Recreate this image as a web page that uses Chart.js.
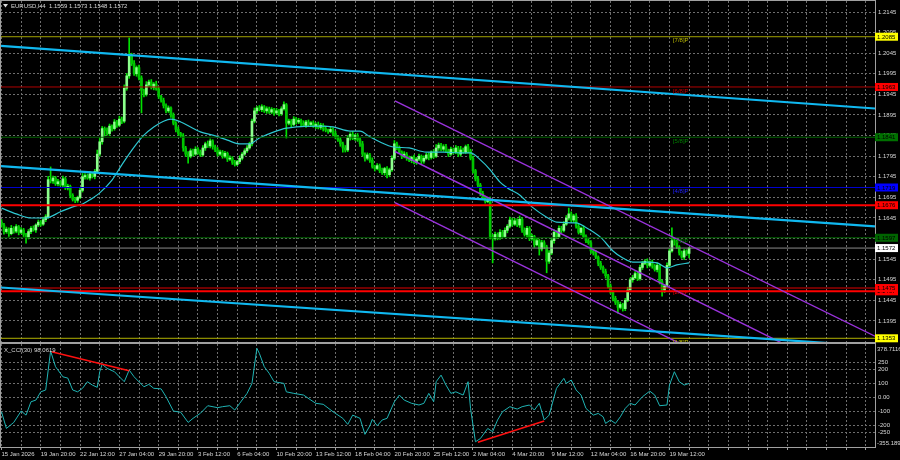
<!DOCTYPE html>
<html>
<head>
<meta charset="utf-8">
<script src="https://cdn.jsdelivr.net/npm/chart.js@4.4.1/dist/chart.umd.min.js"></script>
<style>
  html, body { margin: 0; padding: 0; background: #000; }
  #wrap { position: relative; width: 900px; height: 460px; background: #000; overflow: hidden; }
  canvas { position: absolute; left: 0; }
  #main { top: 0; }
  #cci { top: 343px; }
</style>
</head>
<body>
<div id="wrap">
  <canvas id="main" width="900" height="343"></canvas>
  <canvas id="cci" width="900" height="117"></canvas>
</div>
<script>
// EURUSD H4, 15 Jan - 20 Mar 2026
const firstOpen = 1.1635;
const closes = [
  1.1628,1.1612,1.1618,1.1607,1.1620,1.1613,1.1624,1.1610,1.1616,1.1605,
  1.1598,1.1612,1.1620,1.1616,1.1628,1.1635,1.1630,1.1641,1.1648,1.1738,
  1.1735,1.1742,1.1728,1.1733,1.1725,1.1740,1.1718,1.1722,1.1700,1.1690,
  1.1688,1.1695,1.1712,1.1745,1.1748,1.1742,1.1752,1.1746,1.1758,1.1800,
  1.1830,1.1862,1.1858,1.1850,1.1868,1.1862,1.1878,1.1870,1.1885,1.1880,
  1.1960,1.1990,1.2040,1.2020,1.1995,1.2010,1.1985,1.1955,1.1945,1.1968,
  1.1975,1.1962,1.1970,1.1958,1.1940,1.1930,1.1918,1.1905,1.1912,1.1895,
  1.1875,1.1860,1.1850,1.1845,1.1815,1.1800,1.1795,1.1808,1.1800,1.1812,
  1.1805,1.1798,1.1815,1.1825,1.1820,1.1832,1.1818,1.1810,1.1800,1.1805,
  1.1795,1.1802,1.1788,1.1790,1.1780,1.1775,1.1782,1.1790,1.1800,1.1808,
  1.1815,1.1825,1.1880,1.1905,1.1912,1.1908,1.1915,1.1905,1.1910,1.1902,
  1.1908,1.1900,1.1905,1.1898,1.1910,1.1920,1.1875,1.1880,1.1872,1.1885,
  1.1878,1.1882,1.1875,1.1870,1.1878,1.1872,1.1876,1.1868,1.1872,1.1865,
  1.1870,1.1862,1.1858,1.1855,1.1860,1.1850,1.1842,1.1835,1.1825,1.1815,
  1.1810,1.1840,1.1848,1.1838,1.1845,1.1835,1.1825,1.1800,1.1790,1.1798,
  1.1785,1.1770,1.1765,1.1772,1.1760,1.1755,1.1765,1.1750,1.1762,1.1790,
  1.1825,1.1815,1.1805,1.1795,1.1800,1.1790,1.1785,1.1792,1.1780,1.1788,
  1.1795,1.1783,1.1790,1.1798,1.1792,1.1805,1.1795,1.1815,1.1822,1.1812,
  1.1818,1.1808,1.1800,1.1812,1.1805,1.1815,1.1800,1.1810,1.1805,1.1818,
  1.1808,1.1790,1.1760,1.1740,1.1725,1.1705,1.1695,1.1685,1.1690,1.1600,
  1.1595,1.1605,1.1598,1.1610,1.1600,1.1615,1.1625,1.1640,1.1630,1.1638,
  1.1628,1.1642,1.1615,1.1605,1.1620,1.1595,1.1600,1.1580,1.1590,1.1570,
  1.1585,1.1575,1.1540,1.1560,1.1590,1.1610,1.1600,1.1620,1.1615,1.1630,
  1.1645,1.1655,1.1640,1.1650,1.1625,1.1610,1.1620,1.1600,1.1590,1.1585,
  1.1565,1.1560,1.1550,1.1535,1.1525,1.1515,1.1505,1.1480,1.1465,1.1450,
  1.1440,1.1428,1.1435,1.1425,1.1445,1.1470,1.1495,1.1500,1.1510,1.1498,
  1.1525,1.1535,1.1540,1.1530,1.1538,1.1528,1.1520,1.1530,1.1490,1.1470,
  1.1480,1.1530,1.1565,1.1590,1.1585,1.1575,1.1560,1.1550,1.1565,1.1559,1.1572
];
// wick lengths above / below the body, in pips
const wickUp = [
  6,4,5,3,7,4,5,3,6,4, 3,5,4,6,3,5,4,6,5,8, 31,5,4,6,3,7,4,5,3,4, 5,3,6,8,5,4,6,3,5,10,
  8,5,4,6,5,3,6,4,7,5, 8,6,42,5,7,4,6,5,3,8, 5,6,4,7,5,3,6,4,5,3, 5,4,6,3,5,4,6,5,4,6,
  4,5,6,4,7,5,3,4,6,5, 4,5,3,6,4,5,3,6,4,5, 6,4,5,7,4,6,5,3,5,4, 5,3,6,4,5,7,3,5,4,6,
  4,5,3,6,4,5,3,5,4,6, 5,4,6,3,5,4,6,3,5,4, 6,5,4,7,3,5,4,6,3,5, 4,6,3,5,4,6,3,5,4,6,
  8,4,5,3,6,4,5,3,6,4, 5,3,6,4,5,3,6,8,5,4, 5,6,4,5,3,6,4,9,5,4, 6,4,5,3,6,4,5,3,4,6,
  5,6,4,7,5,6,4,7,5,6, 5,8,4,6,5,4,6,3,5,4, 6,5,4,6,5,7,4,6,5,6, 6,14,5,4,6,5,3,6,4,5,
  5,4,6,3,5,4,6,3,5,4, 5,4,6,3,5,7,4,6,5,4, 6,5,4,6,3,5,4,6,3,5, 4,6,5,31,4,6,3,5,4,3,1
];
const wickDown = [
  5,6,4,7,3,5,4,6,3,5, 14,4,5,3,6,4,5,3,5,4, 5,6,4,5,3,6,4,5,6,4, 6,5,3,4,6,3,5,4,6,3,
  5,6,14,4,5,6,4,5,3,6, 4,5,6,5,4,6,5,55,6,4, 5,4,6,3,5,4,6,5,4,6, 4,6,5,4,8,6,17,4,5,3,
  5,4,3,6,4,5,6,4,5,3, 5,4,6,3,5,4,3,5,4,3, 4,3,5,4,6,3,5,4,6,3, 4,6,3,5,4,3,36,4,6,3,
  5,4,6,3,5,4,5,3,6,4, 5,6,4,5,3,6,5,4,6,10, 5,4,6,3,5,4,6,5,7,4, 5,4,6,3,5,4,6,8,5,4,
  4,5,3,6,4,5,3,6,4,5, 4,6,5,3,6,4,5,3,6,4, 5,4,6,3,5,4,6,5,3,4, 5,4,6,5,4,6,5,4,3,6,
  59,4,6,5,4,3,6,4,5,3, 4,6,5,4,6,5,4,6,3,15, 5,4,28,5,4,6,5,3,6,4, 3,5,4,6,5,4,6,3,5,4,
  6,5,4,6,5,4,6,5,4,6, 5,14,4,6,5,3,4,6,3,5, 4,5,3,6,4,5,4,6,5,15, 6,5,4,3,6,4,5,3,6,5,11
];

// moving average (bar index -> value)
const maIndex = [0,6,12,18,24,29,33,36,40,45,49,54,58,62,66,69,73,77,81,86,92,97,101,105,111,116,122,130,135,142,
  146,150,155,159,166,173,180,187,191,195,199,203,206,211,216,222,226,234,238,244,249,253,257,263,267,271,275,280];
const maValue = [1.1669,1.1655,1.1645,1.1645,1.1660,1.1672,1.1679,1.1689,1.1706,1.1737,1.1774,1.1817,1.1846,1.1866,1.1880,
  1.1885,1.1878,1.1866,1.1854,1.1846,1.1834,1.1825,1.1825,1.1839,1.1854,1.1863,1.1867,1.1868,1.1866,1.1856,1.1856,1.1842,
  1.1827,1.1818,1.1815,1.1805,1.1805,1.1803,1.1803,1.1786,1.1762,1.1732,1.1718,1.1701,1.1672,1.1647,1.1635,1.1633,1.1622,
  1.1598,1.1565,1.1548,1.1538,1.1538,1.1536,1.1524,1.1531,1.1536];

// CCI(30)
const cciIndex = [0,2,5,8,10,12,14,16,18,20,22,25,27,29,31,33,35,37,39,40,41,43,46,48,50,52,54,58,60,62,65,67,70,73,76,78,
  81,84,88,90,93,95,97,100,102,104,105,107,109,111,115,116,119,123,126,128,131,135,139,141,143,146,148,150,151,153,155,157,
  160,162,164,167,170,172,174,176,177,179,181,183,185,188,190,191,193,195,198,200,202,204,207,210,212,215,217,219,221,223,
  226,229,230,232,234,236,238,241,243,245,246,248,250,252,254,256,258,261,264,266,268,271,272,274,276,278,280];
const cciValue = [-104,-223,-180,-99,-128,-33,-21,38,51,329,217,145,136,51,38,63,110,86,70,181,234,205,181,145,110,193,145,
  74,91,63,59,3,-99,-108,-180,-151,-115,-61,-75,-68,-61,-92,-44,27,98,348,312,217,170,110,98,38,27,15,-21,-44,-51,-104,-151,
  -194,-128,-151,-265,-204,-158,-204,-163,-151,-33,15,-21,-44,-56,-44,27,-33,110,157,86,27,38,15,110,-80,-318,-295,-223,-246,
  -163,-104,-68,-85,-68,-56,-92,-44,-163,-128,63,134,98,122,51,15,-80,-128,-116,-140,-187,-163,-187,-140,-80,-44,-56,3,43,15,
  -61,-56,86,181,110,86,98.0619];
const cciMax = 378.7116;
const cciMin = -355.189;
const cciTicks = [250, 200, 100, 0, -100, -200, -250];

const priceTicks = [1.1395,1.1445,1.1495,1.1545,1.1595,1.1645,1.1695,1.1745,1.1795,1.1845,1.1895,1.1945,1.1995,1.2045,1.2095,1.2145];
const timeLabels = ['15 Jan 2026','19 Jan 20:00','22 Jan 12:00','27 Jan 04:00','29 Jan 20:00','3 Feb 12:00','6 Feb 04:00',
  '10 Feb 20:00','13 Feb 12:00','18 Feb 04:00','20 Feb 20:00','25 Feb 12:00','2 Mar 04:00','4 Mar 20:00','9 Mar 12:00',
  '12 Mar 04:00','16 Mar 20:00','19 Mar 12:00'];

// Murray levels
const murrayPrices = [1.2085, 1.1963, 1.1841, 1.1719, 1.1597, 1.1475, 1.1353];
const murrayNames = ['[7/8]P', '[6/8]P', '[5/8]P', '[4/8]P', '[3/8]P', '[2/8]P', '[1/8]P'];
// support / resistance
const srPrices = [1.1676, 1.1467];
// trend channels: price at left and right edge of the window
const blueChannel = [[1.20630, 1.19108], [1.17710, 1.16246], [1.14763, 1.13338]];
const purpleStart = 160.2;
const purpleChannel = [[1.19290, 1.13581], [1.18064, 1.12297], [1.16821, 1.11067]];
// CCI divergence segments [x1, y1, x2, y2]
const divergences = [[20.4, 323, 52, 188], [194, -322, 221, -170]];

// ---- styling ----
const FONT = '"Liberation Sans", Arial, sans-serif';
const XFONT = '"Liberation Sans Narrow", "Liberation Sans", Arial, sans-serif';
const X_MIN = -0.2, X_MAX = 355.7;
const P_MIN = 1.13440, P_MAX = 1.21717;
const GRID = '#6e6e6e';
const FRAME = '#a0a0a0';
const TXT = '#d8d8d8';
const murrayLine = ['#a0a000', '#b00000', '#006400', '#0000d0', '#006400', '#e00000', '#b0b000'];
const murrayText = ['#b8b800', '#c00000', '#008000', '#2020ff', '#008000', '#e00000', '#c0c000'];
const murrayTag = ['#ffff00', '#ff0000', '#007000', '#0000ff', '#006400', '#ff0000', '#ffff00'];
const MURRAY_TEXT_AT = 273.4;

const opens = closes.map((c, i) => i === 0 ? firstOpen : closes[i - 1]);
const highs = closes.map((c, i) => Math.max(opens[i], c) + wickUp[i] / 10000);
const lows = closes.map((c, i) => Math.min(opens[i], c) - wickDown[i] / 10000);
const last = closes.length - 1;

function seg(x1, y1, x2, y2, color, width, order) {
  return { type: 'line', data: [{ x: x1, y: y1 }, { x: x2, y: y2 }], borderColor: color, borderWidth: width,
    pointRadius: 0, fill: false, clip: 0, order: order };
}
function gridTicks(scale) {
  const t = [];
  for (let v = 0; v <= X_MAX; v += 8) t.push({ value: v });
  scale.ticks = t;
}
function noPad(s) {
  s.paddingTop = 0; s.paddingBottom = 0; s.paddingLeft = 0; s.paddingRight = 0;
}

const mainSets = [
  { type: 'bar', data: closes.map((c, i) => ({ x: i, y: [lows[i], highs[i]] })), backgroundColor: '#00e000',
    barThickness: 1, grouped: false, order: 6 },
  { type: 'bar', data: closes.map((c, i) => ({ x: i, y: [opens[i], c] })),
    backgroundColor: closes.map((c, i) => c >= opens[i] ? '#8cff8c' : '#00c400'),
    barThickness: 2, minBarLength: 1, grouped: false, order: 5 },
  { type: 'line', data: maIndex.map((x, k) => ({ x: x, y: maValue[k] })), borderColor: '#2ec8d2', borderWidth: 1.2,
    pointRadius: 0, fill: false, cubicInterpolationMode: 'monotone', clip: 0, order: 4 }
];
murrayPrices.forEach((p, k) => mainSets.push(seg(X_MIN, p, X_MAX, p, murrayLine[k], 1, 3)));
mainSets.push(seg(X_MIN, closes[last], X_MAX, closes[last], '#8a8a8a', 1, 3));
srPrices.forEach(p => mainSets.push(seg(X_MIN, p, X_MAX, p, '#ff0000', 2, 2)));
blueChannel.forEach(c => mainSets.push(seg(X_MIN, c[0], X_MAX, c[1], '#10b8f0', 2.2, 1)));
purpleChannel.forEach(c => mainSets.push(seg(purpleStart, c[0], X_MAX, c[1], '#9a32dc', 1.4, 1)));

function tag(ctx, a, y, price, bg, fg) {
  const py = y.getPixelForValue(price);
  ctx.fillStyle = bg;
  ctx.fillRect(a.right, py - 4, 23, 8);
  ctx.fillStyle = fg;
  ctx.fillText(price.toFixed(4), a.right + 2, py + 0.5);
}

const mainOverlay = {
  id: 'mainOverlay',
  afterDatasetsDraw(chart) {
    const { ctx, chartArea: a, scales: { x, y } } = chart;
    ctx.save();
    ctx.beginPath();
    ctx.rect(a.left, a.top, a.right - a.left, a.bottom - a.top);
    ctx.clip();
    ctx.font = '6px ' + FONT;
    ctx.textBaseline = 'top';
    ctx.textAlign = 'left';
    murrayNames.forEach((n, k) => {
      ctx.fillStyle = murrayText[k];
      ctx.fillText(n, x.getPixelForValue(MURRAY_TEXT_AT), y.getPixelForValue(murrayPrices[k]) + 1);
    });
    ctx.restore();
  },
  afterDraw(chart) {
    const { ctx, chartArea: a, scales: { y } } = chart;
    ctx.save();
    ctx.strokeStyle = FRAME;
    ctx.lineWidth = 1;
    ctx.strokeRect(a.left - 0.5, a.top - 0.5, a.right - a.left + 1, a.bottom - a.top + 1);
    ctx.font = '6px ' + FONT;
    ctx.textBaseline = 'middle';
    ctx.textAlign = 'left';
    srPrices.forEach(p => tag(ctx, a, y, p, '#ff0000', '#000'));
    murrayPrices.forEach((p, k) => tag(ctx, a, y, p, murrayTag[k], '#000'));
    tag(ctx, a, y, closes[last], '#ffffff', '#000');
    // title
    ctx.fillStyle = TXT;
    ctx.beginPath();
    ctx.moveTo(3, 4); ctx.lineTo(8, 4); ctx.lineTo(5.5, 7.5); ctx.closePath(); ctx.fill();
    ctx.fillText('EURUSD,H4  ' + [opens[last], highs[last], lows[last], closes[last]].map(v => v.toFixed(4)).join(' '), 11, 6);
    ctx.restore();
  }
};

new Chart(document.getElementById('main'), {
  type: 'bar',
  data: { datasets: mainSets },
  options: {
    responsive: false, animation: false, events: [],
    layout: { padding: { left: 1, right: 0, top: 1, bottom: 1 } },
    plugins: { legend: { display: false }, tooltip: { enabled: false } },
    scales: {
      x: {
        type: 'linear', min: X_MIN, max: X_MAX, offset: false,
        grid: { color: GRID, drawTicks: false, offset: false },
        border: { display: false, dash: [2, 2] },
        ticks: { display: false },
        afterBuildTicks: gridTicks,
        afterFit: s => { s.height = 0; noPad(s); }
      },
      y: {
        position: 'right', min: P_MIN, max: P_MAX,
        grid: { color: GRID, drawTicks: false },
        border: { display: false, dash: [2, 2] },
        ticks: { color: TXT, font: { family: FONT, size: 6 }, padding: 3, autoSkip: false, callback: v => v.toFixed(4) },
        afterBuildTicks: s => { s.ticks = priceTicks.map(v => ({ value: v })); },
        afterFit: s => { s.width = 25; noPad(s); }
      }
    }
  },
  plugins: [mainOverlay]
});

// ---- CCI panel ----
const cciSets = [
  { data: cciIndex.map((x, k) => ({ x: x, y: cciValue[k] })), borderColor: '#1fb4b4', borderWidth: 1,
    pointRadius: 0, fill: false, clip: 0, order: 2 }
];
divergences.forEach(d => cciSets.push(seg(d[0], d[1], d[2], d[3], '#ff1010', 1.6, 1)));

const cciOverlay = {
  id: 'cciOverlay',
  afterDraw(chart) {
    const { ctx, chartArea: a } = chart;
    ctx.save();
    ctx.strokeStyle = FRAME;
    ctx.lineWidth = 1;
    ctx.strokeRect(a.left - 0.5, a.top - 0.5, a.right - a.left + 1, a.bottom - a.top + 1);
    ctx.font = '6px ' + XFONT;
    ctx.textBaseline = 'middle';
    ctx.textAlign = 'left';
    ctx.fillStyle = TXT;
    ctx.fillText(cciMax.toFixed(4), a.right + 2, a.top + 5);
    ctx.fillText(cciMin.toFixed(3), a.right + 2, a.bottom - 4);
    ctx.font = '6px ' + FONT;
    ctx.fillText('X_CCI(30) ' + cciValue[cciValue.length - 1].toFixed(4), 4, a.top + 6);
    ctx.restore();
  }
};

new Chart(document.getElementById('cci'), {
  type: 'line',
  data: { datasets: cciSets },
  options: {
    responsive: false, animation: false, events: [],
    layout: { padding: { left: 1, right: 0, top: 1, bottom: 0 } },
    plugins: { legend: { display: false }, tooltip: { enabled: false } },
    scales: {
      x: {
        type: 'linear', min: X_MIN, max: X_MAX, offset: false,
        grid: { color: GRID, drawTicks: true, tickLength: 3, tickColor: FRAME, offset: false },
        border: { display: false, dash: [2, 2] },
        ticks: {
          color: TXT, font: { family: XFONT, size: 6 }, padding: 1, align: 'start', autoSkip: false,
          maxRotation: 0, minRotation: 0,
          callback: v => v % 16 === 0 ? (timeLabels[v / 16] || '') : ''
        },
        afterBuildTicks: gridTicks,
        afterFit: s => { s.height = 13; noPad(s); }
      },
      y: {
        position: 'right', min: cciMin, max: cciMax,
        grid: { color: GRID, drawTicks: false },
        border: { display: false, dash: [2, 2] },
        ticks: { color: TXT, font: { family: FONT, size: 6 }, padding: 3, autoSkip: false,
          callback: v => v === 0 ? '0.00' : String(v) },
        afterBuildTicks: s => { s.ticks = cciTicks.map(v => ({ value: v })); },
        afterFit: s => { s.width = 25; noPad(s); }
      }
    }
  },
  plugins: [cciOverlay]
});
</script>
</body>
</html>
